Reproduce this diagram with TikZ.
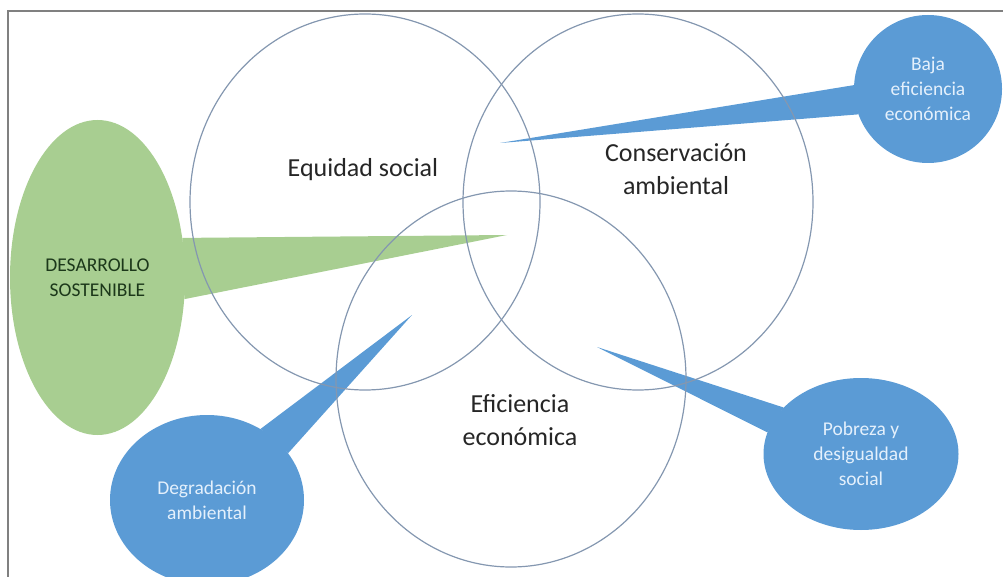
\documentclass[tikz,border=0pt]{standalone}
\usepackage{fontspec}
\setmainfont{Carlito}
\usepackage{tikz}
\usetikzlibrary{
  shapes.geometric,
  calc
}
\definecolor{ringline}{RGB}{132,151,176}
\definecolor{callblue}{RGB}{91,155,213}
\definecolor{callgreen}{RGB}{168,206,145}
\definecolor{greentext}{RGB}{28,56,26}
\definecolor{paletext}{RGB}{228,240,252}
\definecolor{framegray}{RGB}{128,128,128}
\tikzset{
  ring/.style={
    ellipse,
    draw=ringline,
    line width=1.2pt,
    minimum width=350pt,
    minimum height=376pt,
    inner sep=0pt,
  },
  ringtext/.style={
    font=\fontsize{26}{33}\selectfont,
    align=center,
    text=black!85,
  },
  callout/.style={
    ellipse,
    fill=callblue,
    inner sep=0pt,
    align=center,
    font=\fontsize{19.5}{25}\selectfont,
    text=paletext,
  },
  bigcallout/.style={
    callout,
    fill=callgreen,
    text=greentext,
  },
  wedge/.style={
    fill=callblue,
  },
  bigwedge/.style={
    fill=callgreen,
  },
  frameline/.style={
    draw=framegray,
    line width=2pt,
  },
}

\begin{document}
\begin{tikzpicture}[x=1pt,y=-1pt]
		\useasboundingbox (0,0) rectangle (1003,577);

		% frame
		\draw[frameline] (1003,11) -- (8,11) -- (8,577);

		% callouts
		\node[bigcallout,minimum width=175pt,minimum height=315pt] (desarrollo) at (97.5,277.5) {DESARROLLO\\SOSTENIBLE};
		\node[callout,minimum width=148pt,minimum height=148pt] (baja) at (928,89) {Baja\\eficiencia\\económica};
		\node[callout,minimum width=194pt,minimum height=170pt] (degradacion) at (207,500) {Degradación\\ambiental};
		\node[callout,minimum width=195pt,minimum height=152pt] (pobreza) at (861,454) {Pobreza y\\desigualdad\\social};

		\coordinate (tipdes) at (507,235);
		\coordinate (tipbaja) at (500,143);
		\coordinate (tipdeg) at (412,315);
		\coordinate (tippob) at (597,347);

		\fill[bigwedge] (desarrollo.25) -- (tipdes) -- (desarrollo.-14) -- cycle;
		\fill[wedge] (baja.177) -- (tipbaja) -- (baja.200) -- cycle;
		\fill[wedge] (degradacion.53) -- (tipdeg) -- (degradacion.30) -- cycle;
		\fill[wedge] (pobreza.149) -- (tippob) -- (pobreza.167) -- cycle;

		% rings and their labels
		\node[ring] (equidad) at (365,202) {};
		\node[ring] (conservacion) at (638,202) {};
		\node[ring] (eficiencia) at (511,379) {};

		\node[ringtext] (equidadtxt) at (363,170) {Equidad social};
		\node[ringtext] (conservaciontxt) at (676,169) {Conservación\\ambiental};
		\node[ringtext] (eficienciatxt) at (520,420) {Eficiencia\\económica};

	\end{tikzpicture}
\end{document}
